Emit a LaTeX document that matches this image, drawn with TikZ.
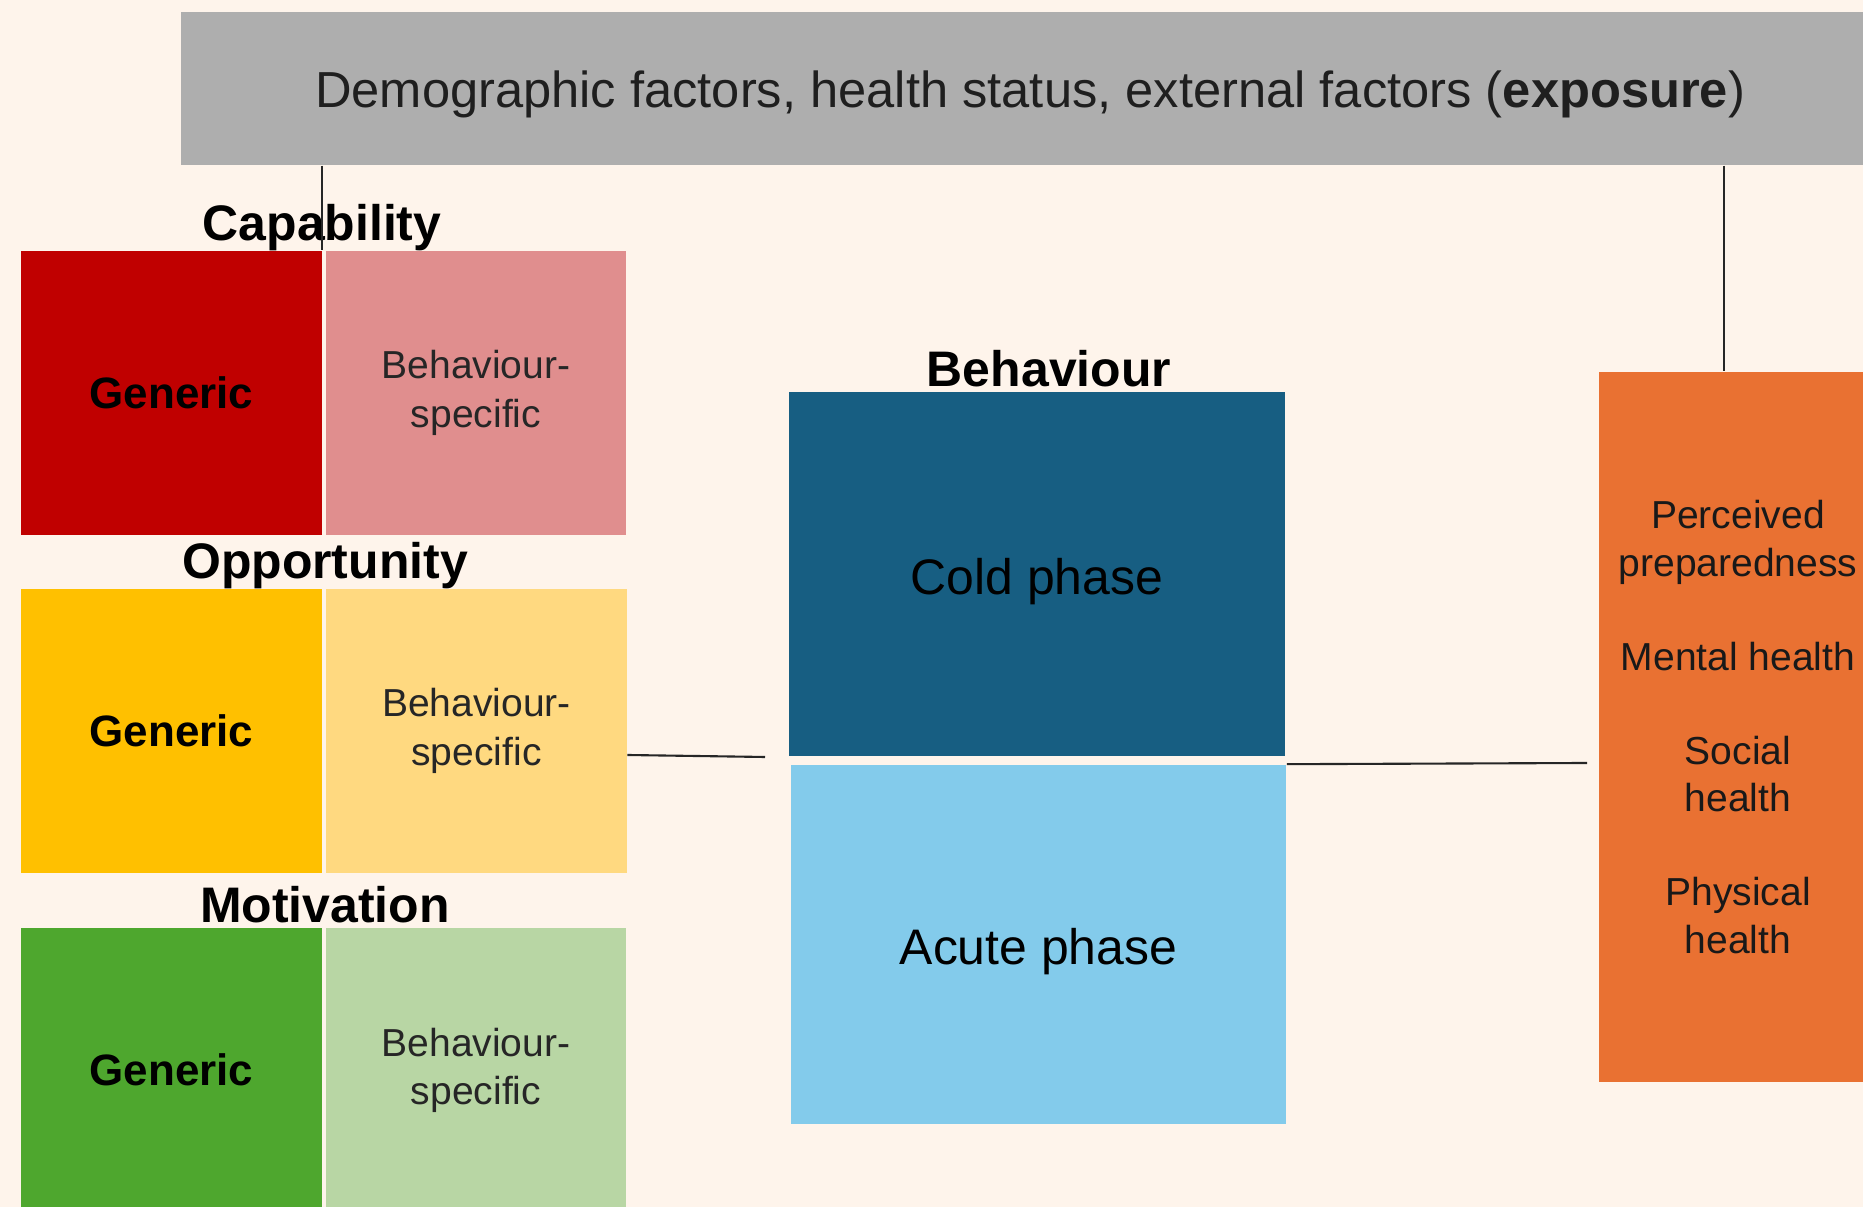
\documentclass[tikz,border=0pt]{standalone}
\usepackage{fontspec}
\setmainfont{Liberation Sans}
\usetikzlibrary{positioning}

\definecolor{bgpeach}{HTML}{FEF4EB}
\definecolor{bannergray}{HTML}{AEAEAE}
\definecolor{capdark}{HTML}{C00000}
\definecolor{caplight}{HTML}{E08E8E}
\definecolor{oppdark}{HTML}{FFC000}
\definecolor{opplight}{HTML}{FFD980}
\definecolor{motdark}{HTML}{4EA72E}
\definecolor{motlight}{HTML}{B8D6A4}
\definecolor{colddark}{HTML}{175E82}
\definecolor{acutelight}{HTML}{83CBEB}
\definecolor{outorange}{HTML}{E97132}

\begin{document}
\begin{tikzpicture}[x=0.01cm, y=-0.01cm,
        box/.style={rectangle, inner sep=0pt, align=center, minimum width=3.0cm, minimum height=2.84cm},
        gen/.style={box, font=\fontsize{12.5pt}{15pt}\selectfont\bfseries},
        spec/.style={box, text=black!85, font=\fontsize{11.1pt}{13.7pt}\selectfont},
        head/.style={inner sep=0pt, anchor=base, font=\fontsize{14.2pt}{17pt}\selectfont\bfseries},
        phase/.style={rectangle, inner sep=0pt, minimum width=4.95cm, text height=14.4pt, text depth=3pt, font=\fontsize{14.2pt}{17pt}\selectfont},
        link/.style={line width=0.6pt, black!85}]
        \useasboundingbox (0,0) rectangle (1863,1207);
        \clip (0,0) rectangle (1863,1207);
        \fill[bgpeach] (0,0) rectangle (1863,1207);

        \node[fill=bannergray, inner sep=0pt, minimum width=16.98cm, minimum height=1.53cm, text height=14pt, text depth=3pt, text=black!88, font=\fontsize{14.4pt}{17pt}\selectfont] at (1030, 88.5)  (banner)  {Demographic factors, health status, external factors (\textbf{exposure})};

        \node[gen, fill=capdark]    at (171.5, 393)   (capgen)   {Generic};
        \node[spec, fill=caplight]  at (476, 393)     (capspec)  {Behaviour-\\specific};
        \node[gen, fill=oppdark]    at (171.5, 731)   (oppgen)   {Generic};
        \node[spec, fill=opplight]  at (476.5, 731)   (oppspec)  {Behaviour-\\specific};
        \node[gen, fill=motdark]    at (171.5, 1070)  (motgen)   {Generic};
        \node[spec, fill=motlight]  at (476, 1070)    (motspec)  {Behaviour-\\specific};

        \node[head] at (322, 241)  (cap)  {Capability};
        \node[head] at (325, 579)  (opp)  {Opportunity};
        \node[head] at (325, 923)  (mot)  {Motivation};

        \node[phase, fill=colddark, minimum height=3.64cm]    at (1037, 574)    (cold)   {Cold phase};
        \node[phase, fill=acutelight, minimum height=3.59cm]  at (1038.5, 944.5) (acute) {Acute phase};
        \node[head] at (1049, 387)  (beh)  {Behaviour};

        \node[fill=outorange, inner sep=0pt, minimum width=2.78cm, minimum height=7.10cm, align=center, text=black!90, font=\fontsize{11.1pt}{13.4pt}\selectfont] at (1738, 727)  (outcome)  {Perceived\\preparedness\\[13.4pt]Mental health\\[13.4pt]Social\\health\\[13.4pt]Physical\\health};

        \coordinate (inL)  at (765, 757);
        \coordinate (outR) at (1587, 763);

        \draw[link]  (banner.south -| capgen.north east) -- (capgen.north east);
        \draw[link]  ([xshift=-0.14cm]outcome.north |- banner.south) -- ([xshift=-0.14cm]outcome.north);
        \draw[link]  (oppspec.east |- 0,755) -- (inL);
        \draw[link]  (acute.north east) -- (outR);
      \end{tikzpicture}
\end{document}
